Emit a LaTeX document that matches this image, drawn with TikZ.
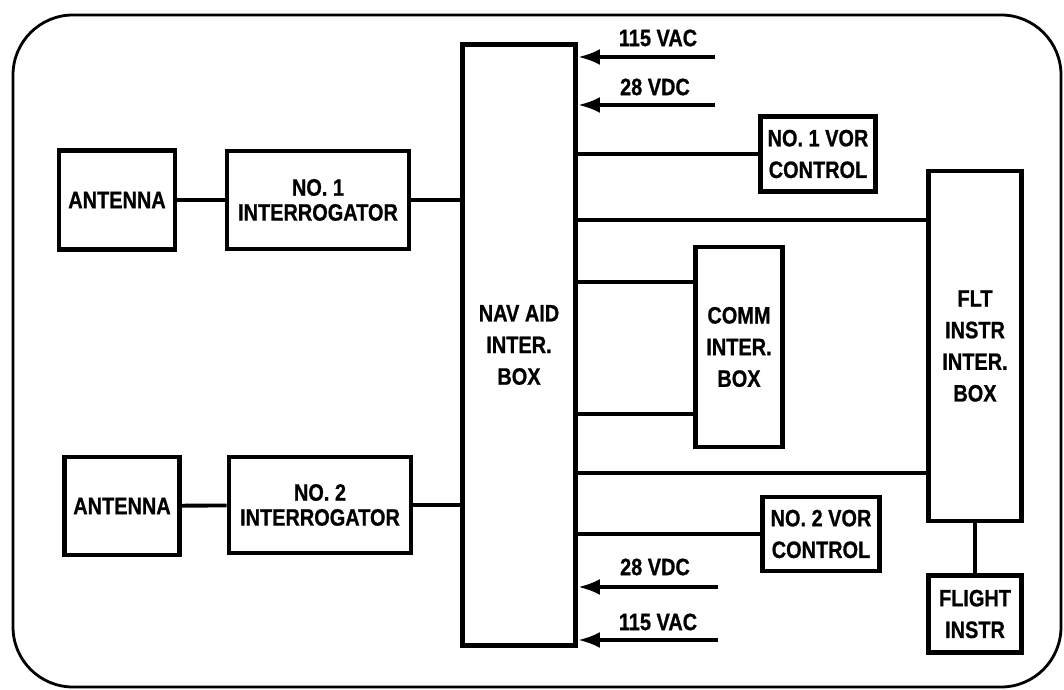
\documentclass[tikz,border=0pt]{standalone}
\usepackage{fontspec}
\newfontfamily\panelfont{Liberation Sans}[FakeStretch=0.84,FakeBold=0.8]
\usetikzlibrary{arrows.meta}

\begin{document}
\begin{tikzpicture}[
  x=0.2mm, y=-0.2mm,
  font=\panelfont\bfseries\fontsize{13.5}{18}\selectfont,
  unit/.style={draw, line width=2.8pt, align=center, inner sep=0pt},
  tight/.style={font=\panelfont\bfseries\fontsize{13.5}{14.2}\selectfont},
  wire/.style={line width=2.2pt},
  feed/.style={line width=2.2pt, -{Latex[length=4.4mm,width=3.2mm]}},
  frame/.style={line width=1.6pt, rounded corners=12mm},
]
\useasboundingbox (0,0) rectangle (1064,690);

% ---- outer panel ----
\draw[frame] (13,15) rectangle (1061,687);

% ---- receiver chains on the left ----
\node[unit, minimum width=23.2mm, minimum height=19.8mm] (ant1) at (117,200) {ANTENNA};
\node[unit, tight, minimum width=36.4mm, minimum height=19.6mm] (int1) at (318,200) {NO. 1\\INTERROGATOR};
\node[unit, minimum width=23mm, minimum height=19.6mm] (ant2) at (122,506) {ANTENNA};
\node[unit, tight, minimum width=36.4mm, minimum height=19.2mm] (int2) at (320,505) {NO. 2\\INTERROGATOR};

% ---- central interface box ----
\node[unit, minimum width=22.6mm, minimum height=120.2mm] (nav) at (519,345) {NAV AID\\INTER.\\BOX};

% ---- boxes on the right ----
\node[unit, minimum width=23mm, minimum height=15mm] (vor1) at (818,154) {NO. 1 VOR\\CONTROL};
\node[unit, minimum width=17.4mm, minimum height=40mm] (comm) at (739,347) {COMM\\INTER.\\BOX};
\node[unit, minimum width=23.4mm, minimum height=14.8mm] (vor2) at (821,534) {NO. 2 VOR\\CONTROL};
\node[unit, minimum width=18.6mm, minimum height=70mm] (flt) at (975,346) {FLT\\INSTR\\INTER.\\BOX};
\node[unit, minimum width=18.6mm, minimum height=15.4mm] (flight) at (975,614) {FLIGHT\\INSTR};

% ---- connections ----
\draw[wire] (ant1) -- (int1);
\draw[wire] (int1) -- (nav.west |- int1);
\draw[wire] (ant2) -- (int2);
\draw[wire] (int2) -- (nav.west |- int2);
\draw[wire] (nav.east |- vor1) -- (vor1);
\draw[wire] (nav.east |- 0,220) -- (flt.west |- 0,220);
\draw[wire] (nav.east |- 0,282) -- (comm.west |- 0,282);
\draw[wire] (nav.east |- 0,414) -- (comm.west |- 0,414);
\draw[wire] (nav.east |- 0,473) -- (flt.west |- 0,473);
\draw[wire] (nav.east |- vor2) -- (vor2);
\draw[wire] (flt) -- (flight);

% ---- power feeds ----
\coordinate (acTop) at (715,57);
\coordinate (dcTop) at (715,105);
\coordinate (dcBot) at (718,587);
\coordinate (acBot) at (718,640);
\draw[feed] (acTop) -- (nav.east |- acTop);
\draw[feed] (dcTop) -- (nav.east |- dcTop);
\draw[feed] (dcBot) -- (nav.east |- dcBot);
\draw[feed] (acBot) -- (nav.east |- acBot);
\node (acTopLbl) at (658,38) {115 VAC};
\node (dcTopLbl) at (655,87) {28 VDC};
\node (dcBotLbl) at (655,567) {28 VDC};
\node (acBotLbl) at (658,622) {115 VAC};
\end{tikzpicture}
\end{document}
